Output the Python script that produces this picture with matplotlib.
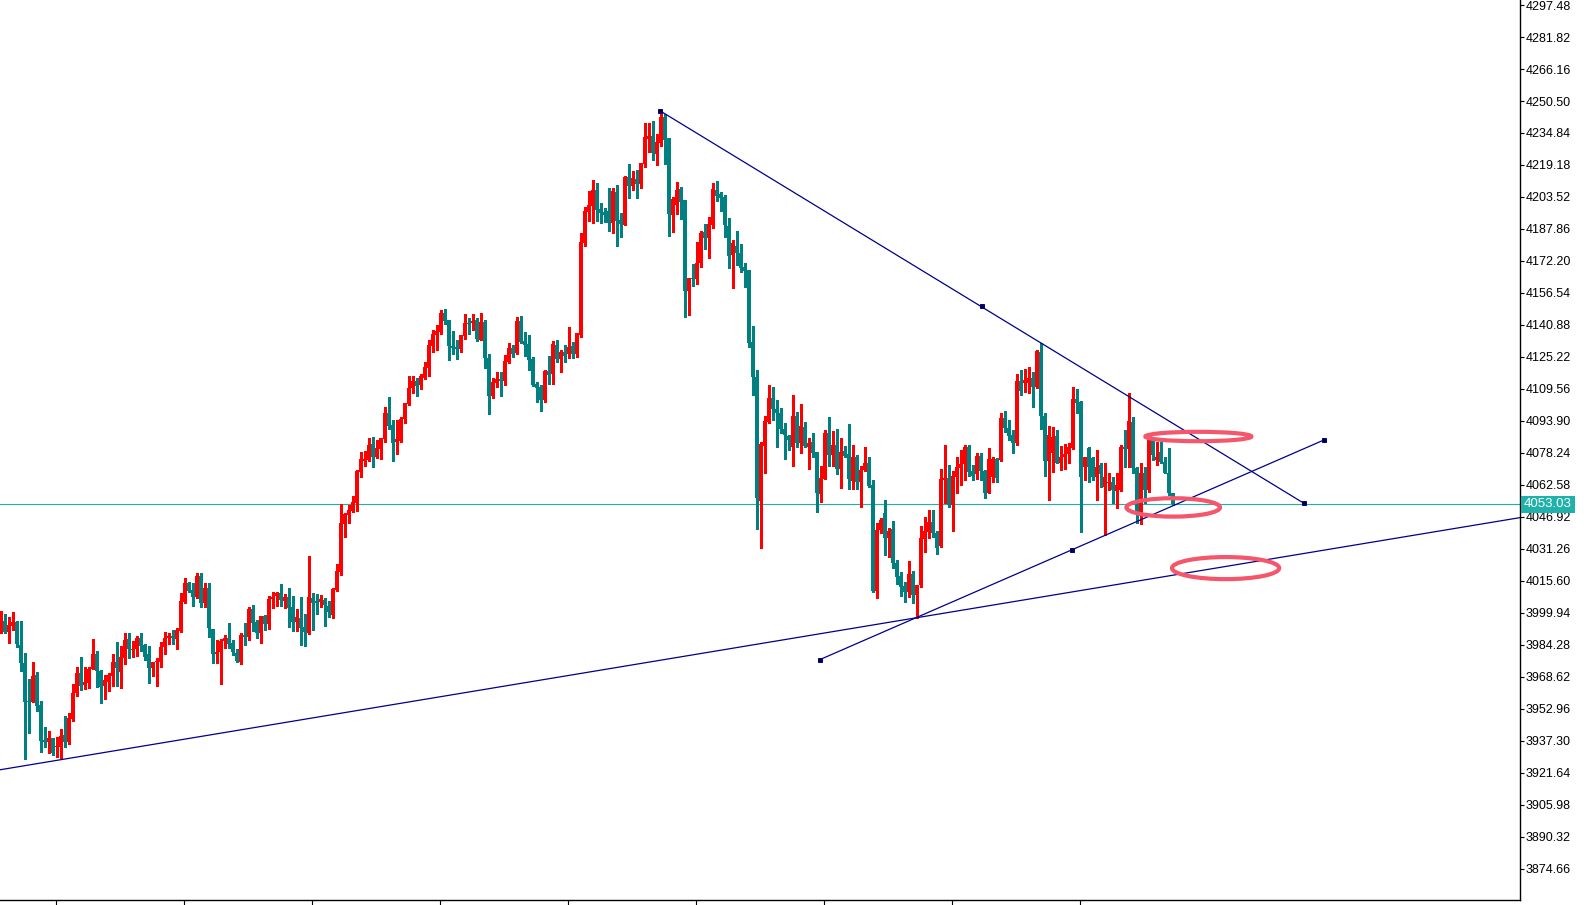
import numpy as np
import matplotlib.pyplot as plt
from matplotlib.patches import Ellipse

# OHLC, one value per bar, oldest first
opens = [
    3993.6, 3996.2, 3990.8, 3993.7, 3995.7, 3984.3, 3975.6, 3956.9, 3956.5, 3969.6,
    3954.9, 3937.8, 3937.0, 3938.6, 3934.2, 3934.5, 3940.2, 3937.0, 3948.0, 3960.6,
    3970.4, 3964.7, 3965.8, 3972.5, 3979.9, 3971.5, 3964.2, 3966.3, 3969.1, 3975.9,
    3971.2, 3978.1, 3987.0, 3982.0, 3982.1, 3987.5, 3984.3, 3979.9, 3973.2, 3976.1,
    3976.1, 3983.5, 3987.5, 3988.7, 3987.4, 3991.1, 4005.5, 4014.8, 4011.2, 4007.9,
    4018.2, 4005.0, 4012.3, 3992.1, 3980.0, 3980.8, 3986.2, 3987.7, 3985.2, 3980.5,
    3976.0, 3989.2, 3988.3, 4001.9, 3995.5, 3990.3, 3998.5, 3994.5, 4006.8, 4008.2,
    4009.7, 4006.0, 4007.8, 4002.9, 3995.7, 3997.5, 3993.1, 3990.3, 4007.3, 4005.8,
    4005.5, 4006.3, 4003.4, 3998.9, 4011.2, 4020.0, 4043.6, 4047.9, 4050.0, 4053.9,
    4068.9, 4074.3, 4074.8, 4082.6, 4076.3, 4080.2, 4085.1, 4097.8, 4091.9, 4083.6,
    4084.1, 4094.9, 4102.2, 4110.0, 4113.5, 4111.5, 4114.9, 4119.8, 4130.6, 4136.0,
    4137.4, 4146.7, 4143.3, 4130.6, 4130.1, 4129.1, 4135.5, 4141.8, 4141.8, 4143.3,
    4133.5, 4142.3, 4124.6, 4106.3, 4112.6, 4114.4, 4113.6, 4122.9, 4129.8, 4127.0,
    4142.8, 4133.0, 4131.7, 4124.2, 4112.2, 4110.7, 4104.2, 4118.4, 4116.7, 4131.1,
    4124.2, 4127.8, 4126.5, 4130.6, 4126.7, 4136.0, 4181.2, 4196.3, 4199.1, 4206.9,
    4197.6, 4196.3, 4196.7, 4191.0, 4206.0, 4192.3, 4190.0, 4213.5, 4208.9, 4212.3,
    4209.9, 4219.7, 4232.1, 4233.5, 4224.6, 4230.1, 4242.8, 4232.6, 4194.7, 4199.6,
    4207.4, 4202.1, 4157.7, 4164.0, 4163.6, 4171.4, 4186.4, 4183.6, 4189.8, 4206.9,
    4204.8, 4203.7, 4189.3, 4175.1, 4179.5, 4175.9, 4169.1, 4167.8, 4132.6, 4115.3,
    4054.9, 4081.8, 4093.6, 4105.0, 4099.6, 4098.0, 4090.1, 4086.7, 4081.3, 4096.3,
    4083.0, 4090.9, 4081.3, 4083.4, 4078.7, 4058.0, 4065.5, 4087.8, 4077.1, 4082.0,
    4070.2, 4079.2, 4077.7, 4064.7, 4076.4, 4063.9, 4069.9, 4073.2, 4062.6, 4010.9,
    4040.6, 4048.7, 4036.5, 4040.9, 4024.6, 4018.0, 4013.1, 4010.4, 4019.0, 4008.7,
    4013.6, 4036.1, 4039.7, 4044.6, 4039.2, 4032.7, 4065.0, 4065.8, 4052.8, 4066.6,
    4071.1, 4072.8, 4081.3, 4069.6, 4067.8, 4076.9, 4069.4, 4058.8, 4066.6, 4075.1,
    4074.8, 4095.2, 4090.6, 4087.1, 4083.0, 4113.5, 4112.7, 4112.3, 4114.8, 4110.4,
    4127.8, 4096.3, 4074.5, 4078.1, 4086.6, 4073.5, 4076.1, 4077.7, 4080.5, 4104.7,
    4103.4, 4071.5, 4080.5, 4075.6, 4066.6, 4072.4, 4061.8, 4063.4, 4064.2, 4059.8,
    4060.1, 4081.3, 4080.0, 4093.6, 4070.7, 4049.5, 4068.3, 4060.1, 4084.6, 4074.8,
    4078.9, 4074.0, 4068.3, 4058.5,
]
highs = [
    4000.9, 3999.4, 3998.1, 4000.6, 3996.0, 3996.0, 3980.2, 3967.6, 3975.8, 3971.2,
    3957.0, 3944.3, 3942.2, 3938.9, 3939.4, 3943.0, 3949.7, 3950.8, 3965.0, 3973.7,
    3978.6, 3973.7, 3973.7, 3987.2, 3981.5, 3972.0, 3969.6, 3970.7, 3979.9, 3985.9,
    3984.0, 3990.0, 3990.0, 3986.4, 3988.7, 3990.3, 3984.6, 3983.8, 3975.8, 3977.7,
    3985.9, 3990.5, 3990.3, 3991.6, 3992.7, 4009.6, 4016.9, 4015.3, 4014.4, 4019.7,
    4019.7, 4014.4, 4014.4, 3992.1, 3986.7, 3987.2, 3989.2, 3995.2, 3986.7, 3982.3,
    3990.0, 3994.9, 4003.0, 4003.8, 3996.5, 3998.5, 3998.9, 4008.2, 4010.2, 4010.2,
    4014.1, 4009.2, 4012.2, 4008.2, 4001.9, 4007.8, 3999.4, 4027.8, 4009.7, 4009.2,
    4008.7, 4007.3, 4005.8, 4012.2, 4023.9, 4053.3, 4048.9, 4052.8, 4057.2, 4069.9,
    4078.7, 4079.2, 4085.6, 4086.1, 4084.6, 4085.6, 4100.7, 4105.6, 4094.4, 4094.4,
    4095.8, 4102.7, 4115.9, 4115.9, 4114.9, 4116.9, 4122.8, 4133.5, 4138.4, 4140.9,
    4148.2, 4148.7, 4143.3, 4137.9, 4133.5, 4136.0, 4146.3, 4144.3, 4146.3, 4144.3,
    4146.7, 4143.3, 4126.5, 4115.1, 4118.0, 4118.0, 4126.2, 4132.1, 4131.1, 4144.9,
    4145.4, 4137.3, 4136.0, 4125.4, 4113.1, 4111.5, 4118.9, 4125.9, 4133.0, 4133.5,
    4128.6, 4131.1, 4140.1, 4132.7, 4137.1, 4186.1, 4198.8, 4206.5, 4211.8, 4210.2,
    4200.4, 4198.3, 4208.1, 4208.1, 4209.4, 4195.5, 4214.0, 4219.7, 4216.4, 4216.7,
    4220.2, 4239.9, 4239.9, 4240.7, 4234.3, 4244.5, 4244.0, 4232.6, 4203.4, 4210.7,
    4208.4, 4202.1, 4164.0, 4170.6, 4181.7, 4186.9, 4190.3, 4193.9, 4210.5, 4211.3,
    4206.1, 4204.5, 4193.4, 4182.5, 4186.9, 4180.5, 4171.0, 4167.8, 4140.4, 4118.8,
    4083.8, 4096.3, 4111.5, 4110.4, 4104.2, 4100.1, 4092.7, 4087.0, 4106.6, 4098.5,
    4102.2, 4093.6, 4085.4, 4087.8, 4078.7, 4071.9, 4089.5, 4095.8, 4089.0, 4089.8,
    4085.7, 4081.8, 4092.4, 4082.2, 4077.3, 4072.0, 4081.0, 4076.4, 4065.0, 4043.8,
    4046.3, 4055.2, 4041.4, 4045.1, 4025.9, 4020.2, 4015.3, 4025.5, 4020.5, 4013.6,
    4042.5, 4047.1, 4050.3, 4050.3, 4040.2, 4070.4, 4082.0, 4072.4, 4069.6, 4076.4,
    4079.7, 4082.2, 4082.1, 4072.4, 4078.4, 4078.1, 4069.9, 4080.5, 4076.4, 4075.6,
    4098.0, 4098.8, 4094.4, 4089.5, 4116.7, 4118.9, 4119.2, 4120.5, 4118.0, 4128.6,
    4131.9, 4097.6, 4091.4, 4091.1, 4089.5, 4081.7, 4082.5, 4083.0, 4110.7, 4109.4,
    4103.7, 4076.4, 4081.3, 4076.4, 4079.7, 4073.2, 4073.2, 4068.3, 4066.6, 4068.3,
    4082.1, 4089.5, 4107.4, 4095.7, 4071.5, 4073.2, 4071.5, 4085.4, 4086.2, 4083.8,
    4083.8, 4076.4, 4080.5, 4058.8,
]
lows = [
    3990.3, 3990.3, 3985.4, 3991.6, 3983.1, 3971.7, 3928.5, 3941.0, 3956.5, 3952.1,
    3932.1, 3934.2, 3931.3, 3930.4, 3929.6, 3928.8, 3934.5, 3935.8, 3947.2, 3959.5,
    3962.2, 3962.6, 3963.4, 3972.5, 3963.5, 3955.7, 3957.7, 3961.9, 3964.2, 3964.2,
    3963.4, 3975.0, 3977.7, 3978.6, 3978.9, 3981.5, 3977.0, 3965.8, 3969.1, 3964.4,
    3973.7, 3979.9, 3984.8, 3984.8, 3982.1, 3990.6, 4004.7, 4010.4, 4003.4, 4007.4,
    4003.0, 4003.0, 3988.3, 3975.3, 3975.3, 3965.2, 3983.0, 3982.6, 3979.4, 3975.8,
    3975.0, 3984.3, 3986.7, 3991.3, 3987.9, 3985.4, 3991.6, 3992.1, 4002.5, 4003.5,
    4003.5, 4002.5, 3993.2, 3991.3, 3991.3, 3984.3, 3983.9, 3989.6, 3991.6, 3999.4,
    4003.0, 3993.7, 3998.1, 3997.6, 4010.7, 4018.5, 4037.1, 4044.1, 4049.5, 4050.0,
    4066.6, 4071.9, 4074.3, 4071.4, 4075.8, 4075.5, 4083.6, 4090.0, 4074.3, 4077.7,
    4083.6, 4092.9, 4101.7, 4107.6, 4106.1, 4109.6, 4114.3, 4115.9, 4127.7, 4128.6,
    4136.5, 4141.4, 4123.7, 4126.7, 4124.2, 4127.7, 4134.0, 4136.5, 4138.4, 4133.0,
    4133.5, 4119.8, 4097.2, 4105.0, 4110.7, 4106.3, 4111.5, 4122.4, 4125.4, 4126.5,
    4131.9, 4125.9, 4118.9, 4111.0, 4103.4, 4098.8, 4103.4, 4111.8, 4112.0, 4122.9,
    4118.0, 4122.9, 4124.6, 4124.6, 4125.0, 4134.8, 4179.5, 4191.8, 4190.6, 4191.8,
    4191.0, 4191.4, 4186.9, 4186.1, 4179.7, 4183.8, 4190.0, 4203.2, 4206.9, 4203.2,
    4208.1, 4218.4, 4225.4, 4221.6, 4219.2, 4228.6, 4219.7, 4184.6, 4186.6, 4195.2,
    4192.8, 4144.9, 4145.8, 4160.1, 4161.1, 4169.4, 4178.2, 4173.8, 4188.5, 4201.6,
    4196.8, 4184.1, 4168.9, 4158.8, 4170.2, 4166.6, 4159.6, 4130.3, 4106.6, 4040.9,
    4031.9, 4068.3, 4092.7, 4094.4, 4081.0, 4087.8, 4075.1, 4079.7, 4072.0, 4081.3,
    4078.1, 4081.0, 4070.2, 4076.4, 4049.5, 4054.4, 4065.3, 4072.0, 4071.9, 4068.0,
    4060.9, 4076.1, 4060.4, 4060.4, 4060.8, 4052.0, 4069.6, 4061.7, 4010.4, 4007.1,
    4038.9, 4028.3, 4027.2, 4021.8, 4013.9, 4008.3, 4005.5, 4007.6, 4005.0, 3997.3,
    4012.8, 4029.9, 4036.5, 4037.3, 4028.6, 4032.4, 4053.6, 4052.0, 4040.1, 4058.5,
    4062.6, 4065.0, 4067.0, 4065.0, 4065.4, 4065.0, 4056.0, 4058.5, 4064.2, 4064.2,
    4074.5, 4088.7, 4084.6, 4078.1, 4082.1, 4106.6, 4108.3, 4107.4, 4100.9, 4109.9,
    4090.0, 4067.1, 4055.2, 4069.1, 4073.2, 4069.9, 4070.2, 4073.2, 4080.2, 4097.6,
    4039.7, 4065.0, 4064.2, 4065.0, 4055.2, 4061.8, 4038.1, 4060.1, 4053.6, 4051.2,
    4059.8, 4071.5, 4071.2, 4068.3, 4043.8, 4043.3, 4053.6, 4059.3, 4074.8, 4072.4,
    4073.2, 4068.3, 4057.7, 4052.8,
]
closes = [
    3996.2, 3990.8, 3994.1, 3995.7, 3984.6, 3975.6, 3956.5, 3956.5, 3969.1, 3954.6,
    3937.4, 3937.0, 3938.6, 3931.6, 3934.8, 3939.7, 3937.0, 3948.7, 3960.6, 3970.4,
    3964.2, 3966.0, 3972.5, 3979.9, 3971.7, 3963.9, 3967.1, 3969.6, 3975.8, 3973.0,
    3978.2, 3986.7, 3982.1, 3982.3, 3987.5, 3983.8, 3978.2, 3973.2, 3975.8, 3976.6,
    3983.3, 3987.7, 3988.7, 3987.9, 3991.6, 4005.8, 4014.4, 4010.9, 4007.9, 4018.2,
    4005.0, 4012.3, 3992.7, 3980.0, 3980.8, 3986.4, 3987.7, 3984.9, 3980.7, 3976.6,
    3989.2, 3988.3, 4001.9, 3995.2, 3990.3, 3998.5, 3994.5, 4006.8, 4007.8, 4009.7,
    4006.3, 4007.8, 4002.5, 3995.7, 3998.0, 3992.7, 3990.8, 4007.8, 4004.9, 4004.9,
    4006.8, 4003.8, 4000.4, 4011.7, 4020.5, 4044.0, 4048.4, 4050.3, 4054.2, 4069.4,
    4075.3, 4075.3, 4082.1, 4076.4, 4080.7, 4085.6, 4097.8, 4091.4, 4083.1, 4085.1,
    4094.9, 4102.7, 4110.0, 4113.5, 4111.0, 4115.9, 4120.3, 4131.1, 4136.5, 4137.9,
    4146.7, 4142.8, 4130.6, 4129.6, 4129.1, 4136.0, 4141.8, 4141.4, 4142.8, 4134.0,
    4142.3, 4124.7, 4106.3, 4113.1, 4114.4, 4113.6, 4123.4, 4129.8, 4126.5, 4142.8,
    4132.7, 4131.1, 4123.8, 4111.5, 4109.9, 4104.2, 4118.4, 4116.4, 4131.7, 4124.2,
    4127.8, 4125.7, 4130.1, 4126.7, 4137.1, 4181.5, 4196.7, 4199.6, 4206.9, 4197.2,
    4195.9, 4194.7, 4191.0, 4206.5, 4191.9, 4190.1, 4213.5, 4209.1, 4212.8, 4209.9,
    4220.2, 4233.0, 4233.5, 4224.9, 4230.6, 4242.8, 4231.4, 4195.2, 4202.5, 4206.9,
    4201.2, 4157.7, 4164.0, 4163.6, 4171.4, 4186.1, 4183.6, 4190.3, 4207.4, 4204.0,
    4203.2, 4189.8, 4174.6, 4180.8, 4175.9, 4168.9, 4167.5, 4132.2, 4115.6, 4056.0,
    4082.6, 4093.9, 4105.0, 4099.6, 4098.0, 4089.8, 4087.0, 4084.6, 4096.3, 4083.0,
    4091.4, 4081.6, 4083.3, 4078.4, 4058.5, 4065.8, 4087.8, 4077.1, 4082.0, 4070.2,
    4078.7, 4076.9, 4065.3, 4076.4, 4063.9, 4069.9, 4073.2, 4062.2, 4010.9, 4040.6,
    4045.5, 4036.5, 4040.1, 4024.6, 4017.7, 4012.8, 4010.4, 4019.0, 4008.7, 4013.6,
    4036.5, 4040.1, 4044.6, 4038.9, 4031.9, 4065.3, 4065.8, 4052.8, 4067.0, 4071.5,
    4072.8, 4081.3, 4069.1, 4067.1, 4076.9, 4069.4, 4058.8, 4075.1, 4075.1, 4066.2,
    4095.2, 4090.6, 4086.6, 4083.3, 4113.5, 4108.6, 4114.0, 4114.8, 4110.4, 4128.3,
    4096.3, 4074.5, 4087.0, 4086.2, 4073.5, 4076.4, 4077.7, 4081.3, 4104.5, 4102.9,
    4066.6, 4076.4, 4071.5, 4066.6, 4071.5, 4067.9, 4066.6, 4064.2, 4060.1, 4062.6,
    4081.3, 4080.0, 4094.1, 4070.7, 4049.5, 4068.3, 4060.1, 4084.6, 4077.3, 4076.4,
    4074.0, 4068.3, 4058.8, 4053.03,
]

last_price = 4053.03
y_ticks = [4297.48, 4281.82, 4266.16, 4250.50, 4234.84, 4219.18, 4203.52, 4187.86,
           4172.20, 4156.54, 4140.88, 4125.22, 4109.56, 4093.90, 4078.24, 4062.58,
           4046.92, 4031.26, 4015.60, 3999.94, 3984.28, 3968.62, 3952.96, 3937.30,
           3921.64, 3905.98, 3890.32, 3874.66]
x_ticks = [13.8, 45.8, 77.8, 109.8, 141.8, 173.8, 205.8, 237.8, 269.8]

# trend lines: (bar, price) of their anchor points
down_line = ([164.9, 245.3, 325.8], [4245.6, 4150.0, 4053.6])
up_line = ([204.75, 267.7, 330.9], [3977.1, 4031.0, 4084.7])
long_ray = ([-0.2, 379.8], [3923.2, 4046.6])

# highlight ellipses: centre bar, centre price, width (bars), height (price)
ellipses = [(299.4, 4086.3, 26.5, 4.6),
            (293.1, 4051.6, 23.4, 9.0),
            (306.2, 4021.9, 26.8, 10.8)]

RED = '#ff0000'
TEAL = '#008080'
NAVY = '#00008b'
PRICE = '#20b2aa'

o = np.array(opens)
h = np.array(highs)
l = np.array(lows)
c = np.array(closes)
x = np.arange(len(o))
colors = np.where(c > o, RED, TEAL)

fig = plt.figure(figsize=(15.89, 9.05), dpi=100)
ax = fig.add_axes([0, 5 / 905, 1520 / 1589, 900 / 905])

ax.vlines(x, l, h, colors=colors, lw=1.0, antialiased=False, zorder=2)
body = np.maximum(np.abs(c - o), 0.5)
ax.bar(x, body, bottom=np.minimum(o, c), width=0.8, color=colors,
       linewidth=0, antialiased=False, zorder=3)

ax.axhline(last_price, color=PRICE, lw=0.8, zorder=1)

for xs, ys in (down_line, up_line):
    ax.plot([xs[0], xs[-1]], [ys[0], ys[-1]], color=NAVY, lw=0.9, zorder=4)
    ax.plot(xs, ys, 's', ms=3.5, mfc='#000033', mec=NAVY, mew=0.7, zorder=5)
ax.plot(long_ray[0], long_ray[1], color=NAVY, lw=0.9, zorder=4)

for cx, cy, w, hh in ellipses:
    ax.add_patch(Ellipse((cx, cy), w, hh, fill=False, ec='#f4566b', lw=3.0, zorder=6))

ax.set_xlim(-0.2, 379.8)
ax.set_ylim(3859.47, 4299.93)

ax.yaxis.tick_right()
ax.set_yticks(y_ticks)
ax.set_yticklabels(['%.2f' % v for v in y_ticks], family='Liberation Sans', fontsize=9)
ax.tick_params(axis='y', direction='out', length=3, width=0.8, pad=1)
ax.set_xticks(x_ticks)
ax.set_xticklabels([])
ax.tick_params(axis='x', direction='out', length=4, width=0.8)

for s in ('left', 'top'):
    ax.spines[s].set_visible(False)
for s in ('right', 'bottom'):
    ax.spines[s].set_linewidth(1.0)

ax.annotate('%.2f' % last_price, xy=(1.0, last_price), xycoords=('axes fraction', 'data'),
            xytext=(4, 0), textcoords='offset pixels', va='center', ha='left',
            color='white', family='Liberation Sans', fontsize=9.5, zorder=10,
            bbox=dict(boxstyle='square,pad=0.2', fc=PRICE, ec='none'),
            annotation_clip=False)

fig.savefig('out.png', dpi=100)
